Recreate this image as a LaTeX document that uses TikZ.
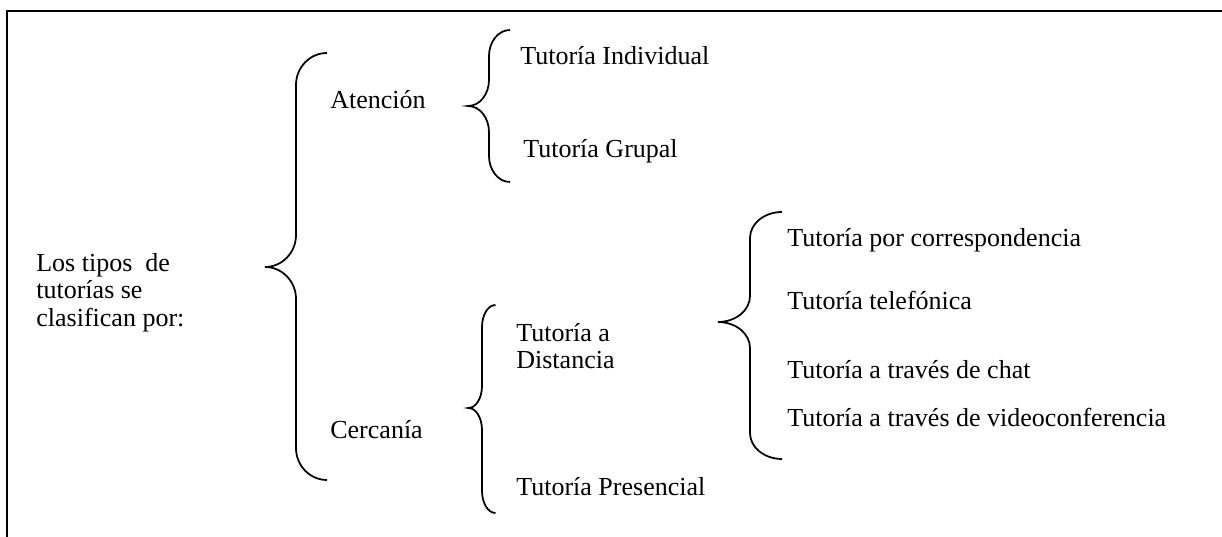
\documentclass[tikz,border=0pt]{standalone}
\usepackage{fontspec}
\setmainfont{Liberation Serif}
\tikzset{
  term/.style={anchor=base west, inner sep=0pt, font=\fontsize{14.8}{15.6}\selectfont},
  curly/.style={line width=0.035cm},
}
% left curly brace: x, top, tip, bottom, width, radius
\newcommand{\curlybrace}[6]{%
  \draw [curly] ({#1+#5},#2) arc[start angle=90,end angle=180,x radius=#5,y radius=#6]
    -- (#1,{#3+#6}) arc[start angle=0,end angle=-90,x radius=#5,y radius=#6]
    arc[start angle=90,end angle=0,x radius=#5,y radius=#6]
    -- (#1,{#4+#6}) arc[start angle=180,end angle=270,x radius=#5,y radius=#6];}
\begin{document}
\begin{tikzpicture}
\useasboundingbox (0,0) rectangle (24.44,10.74);

% Drawing frame
\draw [line width=0.045cm] (24.44,10.52) -- (0.14,10.52) -- (0.14,0);%

% Marking root text
\node [term, anchor=north west, align=left] (tipos) at (0.72,5.68) {Los tipos~ de\\tutorías se\\clasifican por:};%

% Drawing brace root
\curlybrace{5.92}{9.68}{5.40}{1.14}{0.62}{0.64}%

% Marking criteria
\node [term] (atencion) at (6.60,8.56) {Atención};%
\node [term] (cercania) at (6.60,1.96) {Cercanía};%

% Drawing brace Atención
\curlybrace{9.78}{10.14}{8.62}{7.10}{0.42}{0.52}%
\node [term] (individual) at (10.40,9.44) {Tutoría Individual};%
\node [term] (grupal) at (10.46,7.58) {Tutoría Grupal};%

% Drawing brace Cercanía
\curlybrace{9.64}{4.64}{2.58}{0.48}{0.27}{0.44}%
\node [term, anchor=north west, align=left] (distancia) at (10.32,4.28) {Tutoría a\\Distancia};%
\node [term] (presencial) at (10.32,0.82) {Tutoría Presencial};%

% Drawing brace Distancia
\curlybrace{15.00}{6.50}{4.30}{1.56}{0.64}{0.52}%
\node [term] (correo) at (15.74,5.80) {Tutoría por correspondencia};%
\node [term] (telefono) at (15.74,4.54) {Tutoría telefónica};%
\node [term] (chat) at (15.74,3.16) {Tutoría a través de chat};%
\node [term] (video) at (15.74,2.20) {Tutoría a través de videoconferencia};%
\end{tikzpicture}
\end{document}
